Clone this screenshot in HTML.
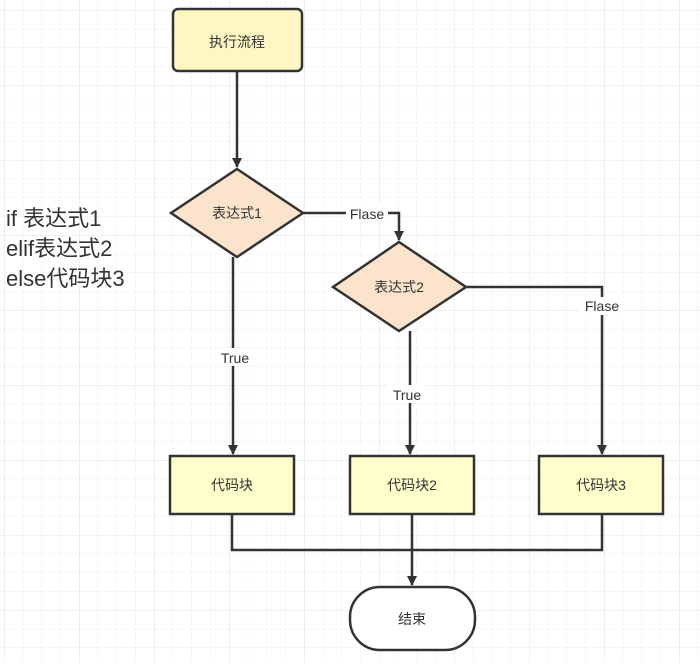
<!DOCTYPE html>
<html><head><meta charset="utf-8"><style>
html,body{margin:0;padding:0;background:#fff}
svg text{font-family:"Liberation Sans","Noto Sans CJK SC",sans-serif}
</style></head><body>
<svg width="700" height="662" viewBox="0 0 700 662" xmlns="http://www.w3.org/2000/svg">
<defs>
<pattern id="g" x="4" y="10" width="18.75" height="18.75" patternUnits="userSpaceOnUse">
<path d="M0 0H18.75M0 0V18.75" stroke="#efefef" stroke-width="1" fill="none"/>
</pattern>
<pattern id="G" x="4" y="10" width="75" height="75" patternUnits="userSpaceOnUse">
<path d="M0 0H75M0 0V75" stroke="#e2e2e2" stroke-width="1" fill="none"/>
</pattern>
<marker id="a" markerWidth="10" markerHeight="12" refX="9" refY="5" orient="auto" markerUnits="userSpaceOnUse" viewBox="0 0 10 10">
<path d="M0 0L10 5L0 10Z" fill="#333"/>
</marker>
</defs>
<rect width="700" height="662" fill="url(#g)"/>
<rect width="700" height="662" fill="url(#G)"/>
<g stroke="#333" stroke-width="2.5" fill="none">
<path d="M237 72V167" marker-end="url(#a)"/>
<path d="M303 213H399V240" marker-end="url(#a)"/>
<path d="M233 257V454" marker-end="url(#a)"/>
<path d="M410 331V454" marker-end="url(#a)"/>
<path d="M466 287H602V454" marker-end="url(#a)"/>
<path d="M232 514V550H602V514"/>
<path d="M412 514V585" marker-end="url(#a)"/>
</g>
<g stroke="#333" stroke-width="2.5">
<rect x="173" y="9" width="129" height="62" rx="5" fill="#fef6c3"/>
<path d="M237 169L303 213L237 257L171 213Z" fill="#fce4cc"/>
<path d="M399 242L466 287L399 331L333 287Z" fill="#fce4cc"/>
<rect x="170" y="456" width="124" height="58" fill="#ffffcc"/>
<rect x="350" y="456" width="124" height="58" fill="#ffffcc"/>
<rect x="539" y="456" width="124" height="58" fill="#ffffcc"/>
<rect x="350" y="587" width="125" height="63" rx="30" fill="#fff"/>
</g>
<g font-size="14" fill="#333" text-anchor="middle">
<text x="237" y="47">执行流程</text>
<text x="237" y="218">表达式1</text>
<text x="399" y="292">表达式2</text>
<text x="232" y="490">代码块</text>
<text x="412" y="490">代码块2</text>
<text x="601" y="490">代码块3</text>
<text x="412" y="624">结束</text>
</g>
<g font-size="14" fill="#333" text-anchor="middle">
<rect x="346" y="204" width="42" height="18" fill="#fff"/>
<text x="367" y="219">Flase</text>
<rect x="580" y="297" width="44" height="18" fill="#fff"/>
<text x="602" y="311">Flase</text>
<rect x="216" y="348" width="38" height="18" fill="#fff"/>
<text x="235" y="363">True</text>
<rect x="388" y="385" width="38" height="18" fill="#fff"/>
<text x="407" y="400">True</text>
</g>
<g font-size="22" fill="#333">
<text x="6" y="226">if 表达式1</text>
<text x="6" y="256">elif表达式2</text>
<text x="6" y="286">else代码块3</text>
</g>
</svg>
</body></html>
